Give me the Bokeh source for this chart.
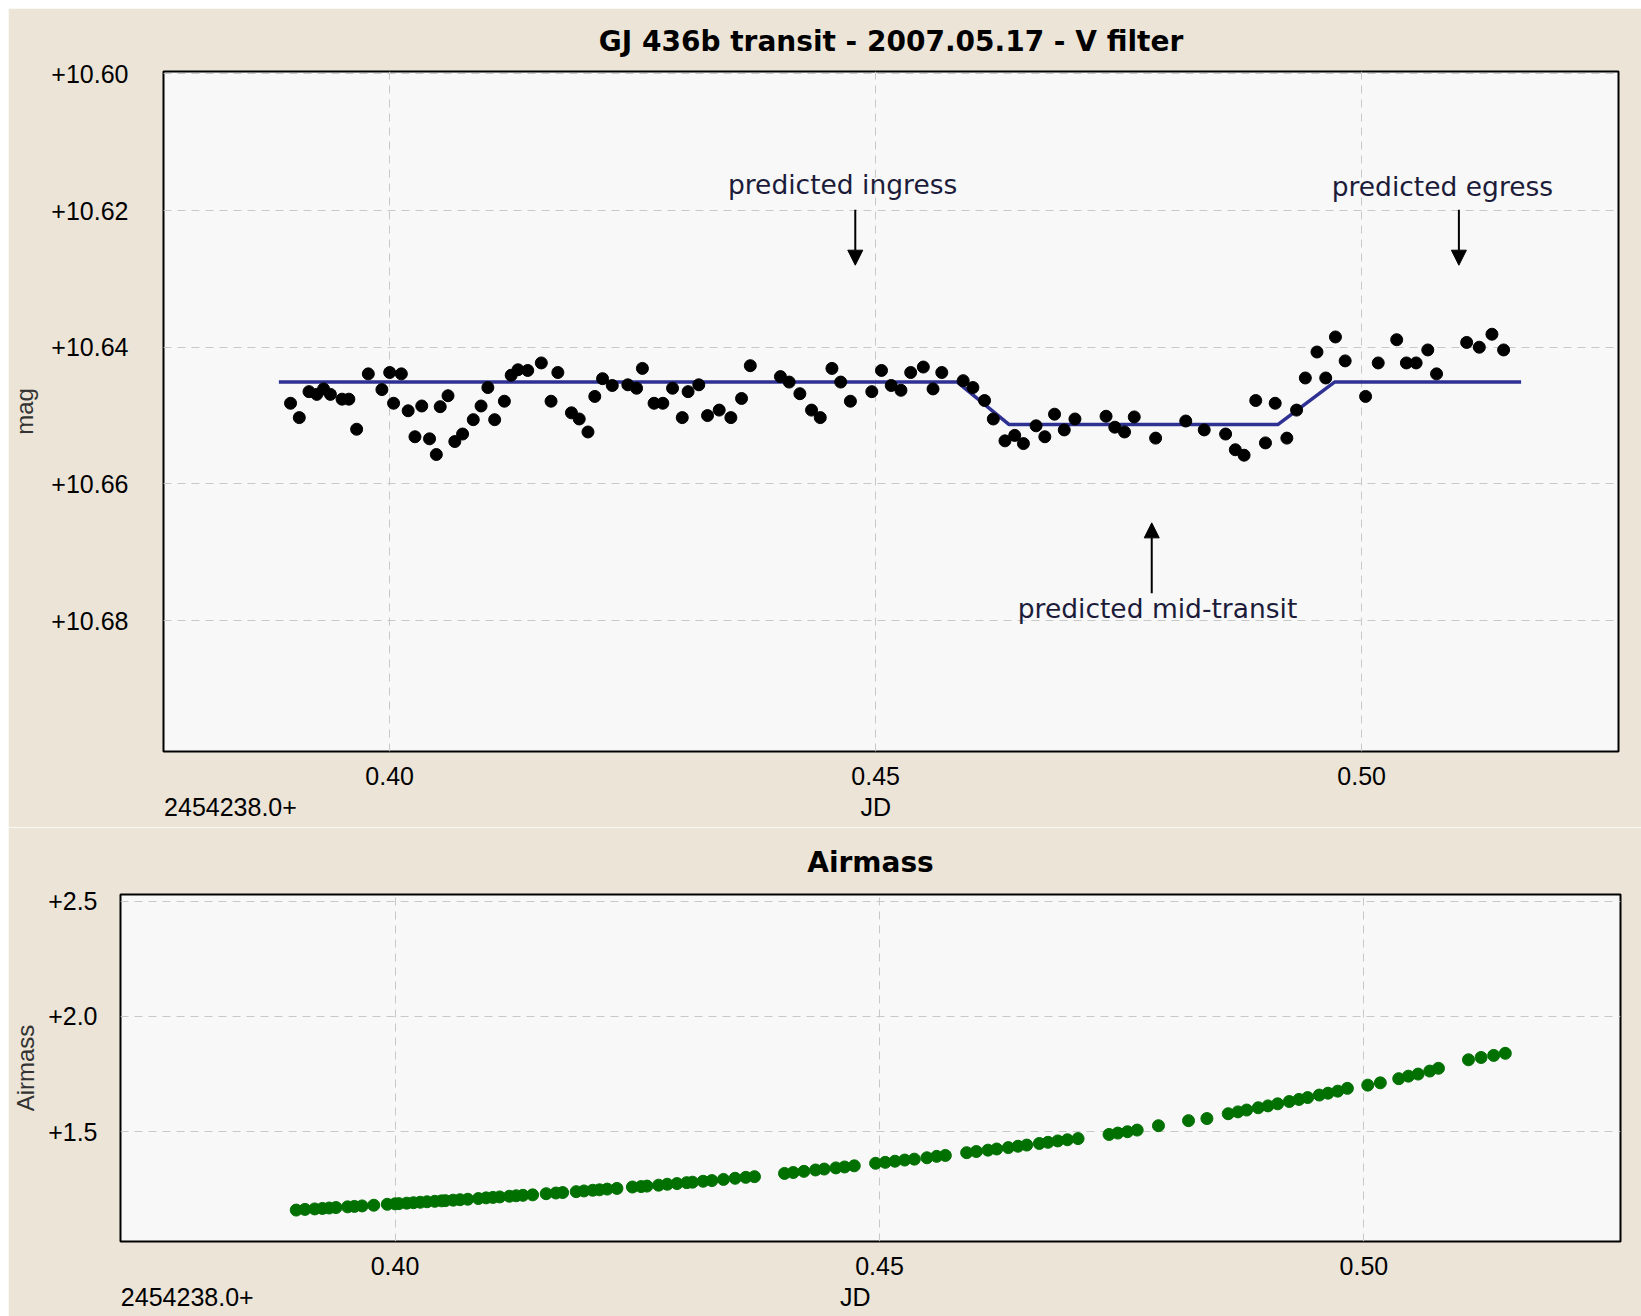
from bokeh.plotting import figure
from bokeh.layouts import column
from bokeh.models import (Range1d, FixedTicker, PrintfTickFormatter, Arrow,
                          NormalHead, Label)
from bokeh.embed import file_html
from bokeh.resources import INLINE

# ---------------- data (JD - 2454238.0) ----------------
jd = [0.3898, 0.3907, 0.3917, 0.3925, 0.3932, 0.3939, 0.3951, 0.3958, 0.3966, 0.3978,
      0.3992, 0.4000, 0.4004, 0.4012, 0.4019, 0.4026, 0.4033, 0.4041, 0.4048, 0.4052,
      0.4060, 0.4067, 0.4075, 0.4086, 0.4094, 0.4101, 0.4108, 0.4118, 0.4125, 0.4132,
      0.4142, 0.4156, 0.4166, 0.4173, 0.4187, 0.4195, 0.4204, 0.4211, 0.4219, 0.4229,
      0.4245, 0.4254, 0.4260, 0.4272, 0.4281, 0.4291, 0.4301, 0.4307, 0.4318, 0.4327,
      0.4339, 0.4351, 0.4362, 0.4371, 0.4402, 0.4411, 0.4422, 0.4434, 0.4443, 0.4455,
      0.4464, 0.4474, 0.4496, 0.4506, 0.4516, 0.4526, 0.4536, 0.4549, 0.4559, 0.4568,
      0.4590, 0.4600, 0.4612, 0.4621, 0.4633, 0.4643, 0.4652, 0.4665, 0.4674, 0.4684,
      0.4694, 0.4705, 0.4737, 0.4746, 0.4756, 0.4766, 0.4788, 0.4819, 0.4838, 0.4860,
      0.4870, 0.4879, 0.4891, 0.4901, 0.4911, 0.4923, 0.4933, 0.4942, 0.4954, 0.4963,
      0.4973, 0.4983, 0.5004, 0.5017, 0.5036, 0.5046, 0.5056, 0.5068, 0.5077, 0.5108,
      0.5121, 0.5134, 0.5146]

mag = [10.6482, 10.6503, 10.6465, 10.6469, 10.6461, 10.6469, 10.6476, 10.6476, 10.6520, 10.6439,
       10.6462, 10.6437, 10.6482, 10.6439, 10.6493, 10.6531, 10.6486, 10.6534, 10.6557, 10.6487,
       10.6471, 10.6538, 10.6527, 10.6506, 10.6486, 10.6459, 10.6506, 10.6479, 10.6441, 10.6433,
       10.6434, 10.6423, 10.6479, 10.6437, 10.6496, 10.6505, 10.6524, 10.6472, 10.6446, 10.6456,
       10.6455, 10.6460, 10.6431, 10.6482, 10.6482, 10.6460, 10.6503, 10.6465, 10.6455, 10.6500,
       10.6492, 10.6503, 10.6475, 10.6427, 10.6443, 10.6451, 10.6468, 10.6492, 10.6503, 10.6431,
       10.6451, 10.6479, 10.6465, 10.6434, 10.6456, 10.6463, 10.6437, 10.6429, 10.6461, 10.6437,
       10.6449, 10.6459, 10.6478, 10.6505, 10.6537, 10.6529, 10.6541, 10.6515, 10.6531, 10.6498,
       10.6521, 10.6505, 10.6501, 10.6517, 10.6524, 10.6502, 10.6533, 10.6508, 10.6521, 10.6527,
       10.6550, 10.6558, 10.6478, 10.6540, 10.6482, 10.6533, 10.6492, 10.6445, 10.6407, 10.6445,
       10.6385, 10.6420, 10.6472, 10.6423, 10.6389, 10.6423, 10.6423, 10.6404, 10.6439, 10.6393,
       10.6400, 10.6381, 10.6404]

airmass = [1.160, 1.163, 1.165, 1.167, 1.169, 1.171, 1.174, 1.176, 1.178, 1.181,
           1.185, 1.187, 1.188, 1.190, 1.192, 1.194, 1.196, 1.198, 1.200, 1.201,
           1.203, 1.205, 1.207, 1.210, 1.213, 1.215, 1.217, 1.220, 1.222, 1.224,
           1.226, 1.231, 1.234, 1.236, 1.240, 1.243, 1.246, 1.248, 1.251, 1.254,
           1.260, 1.262, 1.264, 1.268, 1.272, 1.275, 1.279, 1.281, 1.285, 1.288,
           1.293, 1.298, 1.302, 1.305, 1.319, 1.323, 1.328, 1.334, 1.338, 1.343,
           1.347, 1.352, 1.363, 1.367, 1.372, 1.377, 1.381, 1.387, 1.393, 1.397,
           1.409, 1.414, 1.420, 1.425, 1.431, 1.437, 1.442, 1.449, 1.454, 1.460,
           1.465, 1.470, 1.488, 1.494, 1.500, 1.507, 1.526, 1.548, 1.557, 1.578,
           1.586, 1.594, 1.604, 1.612, 1.621, 1.631, 1.640, 1.648, 1.659, 1.667,
           1.676, 1.688, 1.702, 1.712, 1.730, 1.741, 1.750, 1.763, 1.775, 1.812,
           1.822, 1.831, 1.840]

model_jd = [0.3886, 0.4584, 0.4637, 0.4914, 0.4972, 0.5164]
model_mag = [10.6451, 10.6451, 10.6513, 10.6513, 10.6451, 10.6451]

jd_ticks = [0.40, 0.45, 0.50]
mag_ticks = [10.60, 10.62, 10.64, 10.66, 10.68]
airmass_ticks = [1.5, 2.0, 2.5]

note_text = ["predicted ingress", "predicted egress", "predicted mid-transit"]
note_x = [0.4466, 0.5083, 0.4790]
note_y = [10.6162, 10.6165, 10.6782]
arrow_x = [0.4479, 0.5100, 0.4784]
arrow_y_start = [10.6199, 10.6199, 10.6760]
arrow_y_end = [10.6280, 10.6280, 10.6657]

title_top = "GJ 436b transit - 2007.05.17 - V filter"
title_bottom = "Airmass"
jd_offset_text = "2454238.0+"
jd_label = "JD"
# where the second-row texts sit under each x axis (JD offset units)
offset_pos_top, jd_pos_top = 0.38362, 0.45
offset_pos_bot, jd_pos_bot = 0.37855, 0.4475

# ---------------- styling ----------------
BG = "#EBE4D7"
PLOT_BG = "#F8F8F8"
GRID = "#C8C8C8"
TICK_FONT = "Liberation Sans"
TITLE_FONT = "DejaVu Sans"


def style(p, ylabel, ystandoff, lstandoff, xstandoff, tstandoff):
    if "frame_align" in p.properties():
        p.frame_align = False
    p.background_fill_color = PLOT_BG
    p.border_fill_color = BG
    p.outline_line_color = "black"
    p.outline_line_width = 2
    p.title.text_font = TITLE_FONT
    p.title.text_font_size = "28px"
    p.title.text_font_style = "bold"
    p.title.text_color = "black"
    p.title.align = "center"
    p.title.standoff = tstandoff
    for ax in p.axis:
        ax.axis_line_color = None
        ax.major_tick_line_color = None
        ax.minor_tick_line_color = None
        ax.major_tick_out = 0
        ax.major_tick_in = 0
        ax.major_label_text_font = TICK_FONT
        ax.major_label_text_font_size = "25px"
        ax.major_label_text_color = "black"
    p.xaxis.major_label_standoff = xstandoff
    p.xaxis.major_label_text_line_height = 1.12
    p.yaxis.major_label_standoff = ystandoff
    p.yaxis.axis_label = ylabel
    p.yaxis.axis_label_text_font = TICK_FONT
    p.yaxis.axis_label_text_font_size = "24px"
    p.yaxis.axis_label_text_font_style = "normal"
    p.yaxis.axis_label_text_color = "#333333"
    p.yaxis.axis_label_standoff = lstandoff
    p.grid.grid_line_color = GRID
    p.grid.grid_line_dash = "8 6"
    p.grid.grid_line_width = 1


def x_labels(offset_pos, jd_pos):
    ticks = list(jd_ticks) + [offset_pos]
    over = {offset_pos: " \n" + jd_offset_text, str(offset_pos): " \n" + jd_offset_text}
    if jd_pos in jd_ticks:
        over[jd_pos] = "%.2f\n%s" % (jd_pos, jd_label)
        over[str(jd_pos)] = "%.2f\n%s" % (jd_pos, jd_label)
    else:
        ticks.append(jd_pos)
        over[jd_pos] = " \n" + jd_label
        over[str(jd_pos)] = " \n" + jd_label
    return ticks, over


# ---------------- top: light curve ----------------
p1 = figure(width=1633, height=819, output_backend="svg", toolbar_location=None, tools="",
            title=title_top,
            x_range=Range1d(0.37673, 0.52642), y_range=Range1d(10.69915, 10.59966),
            min_border_left=154, min_border_right=23, min_border_top=63, min_border_bottom=76)
style(p1, "mag", 35, 10, 10, 27)
t1, o1 = x_labels(offset_pos_top, jd_pos_top)
p1.xaxis.ticker = FixedTicker(ticks=t1)
p1.xaxis.formatter = PrintfTickFormatter(format="%.2f")
p1.xaxis.major_label_overrides = o1
p1.xgrid.ticker = FixedTicker(ticks=jd_ticks)
p1.yaxis.ticker = FixedTicker(ticks=mag_ticks)
p1.yaxis.formatter = PrintfTickFormatter(format="%+.2f")

p1.line(model_jd, model_mag, line_color="#2E3192", line_width=3.5)
p1.scatter(jd, mag, size=12, marker="circle", fill_color="black", line_color="black")

for t, tx, ty in zip(note_text, note_x, note_y):
    p1.add_layout(Label(x=tx, y=ty, text=t, text_align="center", text_baseline="middle",
                        text_font="DejaVu Sans", text_font_size="26.5px", text_color="#1c1c3a"))
for ax_, ys, ye in zip(arrow_x, arrow_y_start, arrow_y_end):
    p1.add_layout(Arrow(x_start=ax_, y_start=ys, x_end=ax_, y_end=ye, line_width=2,
                        line_color="black",
                        end=NormalHead(size=15, fill_color="black", line_color="black")))

# ---------------- bottom: airmass ----------------
p2 = figure(width=1633, height=489, output_backend="svg", toolbar_location=None, tools="",
            title=title_bottom,
            x_range=Range1d(0.37166, 0.52649), y_range=Range1d(1.0237, 2.529),
            min_border_left=112, min_border_right=21, min_border_top=67, min_border_bottom=75)
style(p2, "Airmass", 23, 6, 10, 31)
t2, o2 = x_labels(offset_pos_bot, jd_pos_bot)
p2.xaxis.ticker = FixedTicker(ticks=t2)
p2.xaxis.formatter = PrintfTickFormatter(format="%.2f")
p2.xaxis.major_label_overrides = o2
p2.xgrid.ticker = FixedTicker(ticks=jd_ticks)
p2.yaxis.ticker = FixedTicker(ticks=airmass_ticks)
p2.yaxis.formatter = PrintfTickFormatter(format="%+.1f")

p2.scatter(jd, airmass, size=12, marker="circle", fill_color="#007000", line_color="#007000")

layout = column(p1, p2, spacing=0, margin=(8, 0, 0, 8))
open("out.html", "w").write(file_html(layout, INLINE))
